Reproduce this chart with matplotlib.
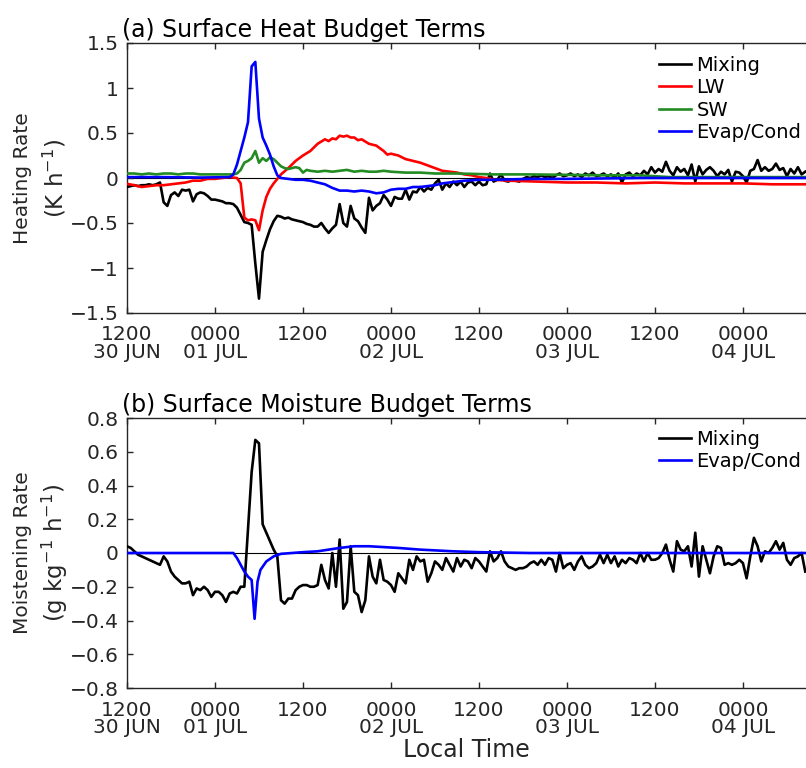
import numpy as np
import matplotlib
matplotlib.use("Agg")
import matplotlib.pyplot as plt
from matplotlib.ticker import FixedLocator, FuncFormatter

# ---------------- data ----------------
STEP_HOURS = 0.5  # sampling of the mixing series (hours since 1200 30 JUN)

MIX_A = [
    -0.10, -0.09, -0.08, -0.09, -0.08, -0.08, -0.07, -0.08, -0.07, -0.05, -0.27, -0.31,
    -0.19, -0.16, -0.20, -0.13, -0.14, -0.13, -0.26, -0.18, -0.16, -0.17, -0.20, -0.24,
    -0.24, -0.25, -0.26, -0.28, -0.28, -0.29, -0.33, -0.41, -0.49, -0.50, -0.52, -0.95,
    -1.34, -0.82, -0.69, -0.57, -0.48, -0.42, -0.43, -0.45, -0.44, -0.46, -0.47, -0.48,
    -0.49, -0.51, -0.52, -0.54, -0.54, -0.50, -0.56, -0.61, -0.56, -0.52, -0.29, -0.50,
    -0.54, -0.31, -0.45, -0.48, -0.55, -0.61, -0.22, -0.36, -0.31, -0.28, -0.19, -0.24,
    -0.31, -0.21, -0.23, -0.23, -0.13, -0.24, -0.15, -0.16, -0.10, -0.15, -0.11, -0.13,
    -0.06, -0.02, -0.13, -0.06, -0.10, -0.04, -0.08, -0.04, -0.10, -0.05, -0.04, -0.08,
    -0.04, -0.08, -0.07, 0.05, -0.04, -0.02, 0.04, -0.03, -0.04, -0.02, -0.03, -0.04,
    -0.01, 0.01, 0.00, 0.02, 0.01, 0.03, 0.01, 0.02, 0.00, 0.03, 0.05, 0.02,
    0.03, 0.05, 0.02, 0.04, 0.01, 0.05, 0.03, 0.06, 0.02, 0.03, 0.05, 0.02,
    0.04, 0.01, 0.05, -0.05, 0.04, 0.06, 0.02, 0.05, 0.03, 0.08, 0.04, 0.12,
    0.06, 0.10, 0.07, 0.18, 0.08, 0.03, 0.12, 0.07, 0.10, 0.03, 0.15, -0.04,
    0.13, 0.04, 0.09, 0.12, 0.08, 0.02, 0.07, 0.04, 0.09, -0.04, 0.07, 0.06,
    0.02, -0.05, 0.08, 0.10, 0.20, 0.08, 0.12, 0.08, 0.10, 0.16, 0.09, 0.11,
    0.02, 0.10, 0.05, 0.12, 0.04, 0.07,
]

LW_HOURS = [0, 1, 2, 3, 4, 5, 6, 7, 8, 9, 10, 11, 12, 13, 14, 15, 15.5, 16, 16.5, 17,
            17.5, 18, 18.5, 19, 19.5, 20, 20.5, 21, 22, 23, 24, 25, 26, 27, 27.5, 28,
            28.5, 29, 29.5, 30, 30.5, 31, 31.5, 32, 33, 34, 34.5, 35, 35.5, 36, 37, 38,
            39, 40, 41, 42, 43, 44, 45, 46, 47, 48, 49, 50, 52, 54, 56, 58, 60, 64, 68,
            72, 76, 80, 84, 88, 92.6]
LW_VALUES = [-0.065, -0.08, -0.10, -0.09, -0.08, -0.08, -0.07, -0.06, -0.05, -0.03, -0.03,
             -0.01, -0.01, 0.00, 0.01, 0.00, -0.06, -0.44, -0.47, -0.46, -0.47, -0.58,
             -0.36, -0.21, -0.12, -0.06, -0.01, 0.04, 0.11, 0.19, 0.25, 0.30, 0.38, 0.43,
             0.41, 0.44, 0.43, 0.47, 0.46, 0.47, 0.45, 0.45, 0.42, 0.43, 0.38, 0.36, 0.33,
             0.30, 0.26, 0.27, 0.25, 0.21, 0.19, 0.17, 0.14, 0.11, 0.08, 0.07, 0.06, 0.04,
             0.03, 0.01, 0.00, -0.02, -0.03, -0.035, -0.04, -0.045, -0.05, -0.05, -0.06,
             -0.05, -0.06, -0.06, -0.06, -0.07, -0.07]

SW_HOURS = [0, 1, 2, 3, 4, 5, 6, 7, 8, 9, 10, 11, 12, 13, 14, 14.5, 15, 15.5, 16, 16.5,
            17, 17.5, 18, 18.5, 19, 19.5, 20, 20.5, 21, 21.5, 22, 22.5, 23, 23.5, 24,
            24.5, 25, 26, 27, 28, 29, 30, 31, 32, 33, 34, 35, 36, 38, 40, 42, 45, 50,
            55, 60, 65, 70, 72, 74, 92.6]
SW_VALUES = [0.05, 0.05, 0.04, 0.05, 0.04, 0.05, 0.05, 0.04, 0.05, 0.05, 0.04, 0.04,
             0.04, 0.04, 0.04, 0.04, 0.05, 0.09, 0.17, 0.19, 0.22, 0.30, 0.17, 0.22,
             0.19, 0.23, 0.21, 0.17, 0.13, 0.11, 0.10, 0.11, 0.12, 0.11, 0.06, 0.09,
             0.08, 0.07, 0.08, 0.07, 0.08, 0.09, 0.07, 0.08, 0.07, 0.07, 0.08, 0.07,
             0.06, 0.06, 0.05, 0.05, 0.04, 0.04, 0.035, 0.03, 0.03, 0.02, 0.01, 0.01]

EVAP_A_HOURS = [0, 5, 10, 14, 14.5, 15, 15.5, 16, 16.5, 17, 17.5, 18, 18.5, 19, 19.5, 20,
                20.5, 21, 22, 23, 24, 25, 26, 27, 28, 29, 30, 31, 32, 33, 34, 35, 36, 37,
                38, 39, 40, 41, 42, 43, 44, 45, 46, 48, 50, 55, 60, 70, 92.6]
EVAP_A_VALUES = [0.01, 0.01, 0.005, 0.01, 0.04, 0.15, 0.30, 0.45, 0.62, 1.24, 1.29, 0.66,
                 0.45, 0.36, 0.26, 0.13, 0.03, 0.00, -0.01, -0.02, -0.02, -0.03, -0.05,
                 -0.07, -0.11, -0.14, -0.14, -0.15, -0.14, -0.15, -0.17, -0.16, -0.13,
                 -0.12, -0.12, -0.10, -0.10, -0.09, -0.08, -0.06, -0.05, -0.04, -0.03,
                 -0.02, -0.02, -0.01, -0.01, 0.00, 0.00]

MIX_B = [
    0.04, 0.03, 0.01, -0.01, -0.02, -0.03, -0.04, -0.05, -0.06, -0.07, -0.02, -0.05,
    -0.11, -0.14, -0.16, -0.18, -0.18, -0.17, -0.25, -0.21, -0.22, -0.20, -0.22, -0.26,
    -0.23, -0.23, -0.25, -0.29, -0.24, -0.23, -0.24, -0.20, -0.20, 0.14, 0.48, 0.67,
    0.65, 0.17, 0.12, 0.07, 0.02, -0.02, -0.28, -0.30, -0.27, -0.27, -0.22, -0.20,
    -0.19, -0.19, -0.20, -0.20, -0.19, -0.07, -0.16, -0.21, 0.00, -0.20, 0.08, -0.33,
    -0.29, 0.04, -0.23, -0.25, -0.35, -0.28, -0.02, -0.14, -0.18, -0.04, -0.16, -0.17,
    -0.19, -0.23, -0.12, -0.15, -0.18, -0.04, -0.10, -0.02, -0.05, -0.04, -0.17, -0.12,
    -0.05, -0.07, -0.10, -0.03, -0.07, -0.11, -0.03, -0.08, -0.04, -0.05, -0.09, -0.03,
    -0.05, -0.08, -0.11, 0.01, -0.05, -0.03, 0.01, -0.05, -0.08, -0.09, -0.10, -0.09,
    -0.09, -0.08, -0.06, -0.05, -0.07, -0.04, -0.07, -0.03, -0.04, -0.11, 0.00, -0.09,
    -0.07, -0.06, -0.10, -0.05, -0.02, -0.07, -0.09, -0.08, -0.06, -0.01, -0.06, -0.01,
    -0.06, -0.02, -0.08, -0.04, -0.06, -0.03, -0.04, -0.06, 0.00, -0.05, 0.00, -0.04,
    -0.04, -0.03, 0.00, 0.05, -0.04, -0.11, 0.07, 0.02, 0.01, 0.04, -0.08, 0.12,
    -0.14, 0.04, -0.04, -0.12, -0.02, 0.04, 0.03, -0.07, -0.06, -0.07, -0.06, -0.04,
    -0.06, -0.15, -0.02, 0.09, 0.04, -0.05, 0.01, 0.00, 0.03, 0.07, 0.02, 0.06,
    -0.04, -0.07, -0.03, -0.02, 0.00, -0.11,
]

EVAP_B_HOURS = [0, 5, 10, 14.5, 15, 15.5, 16, 16.5, 17, 17.4, 17.8, 18.2, 19, 20, 21, 24,
                26, 27.5, 29, 31, 33, 35, 37, 40, 44.5, 48, 55, 92.6]
EVAP_B_VALUES = [0.0, 0.0, 0.0, 0.0, -0.03, -0.07, -0.11, -0.14, -0.16, -0.39, -0.17,
                 -0.10, -0.05, -0.02, -0.005, 0.005, 0.01, 0.02, 0.03, 0.04, 0.04, 0.035,
                 0.03, 0.02, 0.01, 0.005, 0.0, 0.0]

XTICK_HOURS = [0, 12, 24, 36, 48, 60, 72, 84]
XTICK_LABELS = ["1200\n30 JUN", "0000\n01 JUL", "1200", "0000\n02 JUL", "1200",
                "0000\n03 JUL", "1200", "0000\n04 JUL"]
YTICKS_A = [-1.5, -1.0, -0.5, 0.0, 0.5, 1.0, 1.5]
YTICKS_B = [-0.8, -0.6, -0.4, -0.2, 0.0, 0.2, 0.4, 0.6, 0.8]

# ---------------- style ----------------
plt.rcParams["font.family"] = ["DejaVu Sans"]
plt.rcParams["font.size"] = 14.5
plt.rcParams["mathtext.default"] = "regular"
DARK = "#262626"
C_MIX, C_LW, C_SW, C_EVAP = "black", "#ff0000", "#228b22", "#0000ff"
LW = 1.9

W, H = 806, 768
fig = plt.figure(figsize=(W / 100, H / 100), dpi=100)
XMAX = 92.6


def fmt(v, _pos):
    s = "%g" % round(v, 3)
    if s == "-0":
        s = "0"
    return s.replace("-", "\u2212")


def make_axes(top_px, bottom_px):
    return fig.add_axes([127 / W, (H - bottom_px) / H, (W - 127) / W, (bottom_px - top_px) / H])


def style(ax, yticks, title, ylabel1, ylabel2):
    ax.set_xlim(0, XMAX)
    ax.set_ylim(yticks[0], yticks[-1])
    ax.axhline(0, color="black", lw=0.8, zorder=1.5)
    ax.xaxis.set_major_locator(FixedLocator(XTICK_HOURS))
    ax.set_xticklabels(XTICK_LABELS)
    ax.yaxis.set_major_locator(FixedLocator(yticks))
    ax.yaxis.set_major_formatter(FuncFormatter(fmt))
    ax.tick_params(axis="both", direction="in", length=4, width=1, colors=DARK,
                   top=True, right=False, labelsize=14.5)
    ax.tick_params(axis="x", pad=9)
    ax.tick_params(axis="y", pad=6)
    for lab in ax.get_xticklabels():
        lab.set_linespacing(0.88)
    for side in ("left", "bottom", "top"):
        ax.spines[side].set_color(DARK)
        ax.spines[side].set_linewidth(1.0)
    ax.spines["right"].set_visible(False)
    ax.text(-0.008, 1.004, title, transform=ax.transAxes, ha="left", va="bottom",
            fontsize=17, color="black")
    ax.text(-0.1546, 0.5, ylabel1, transform=ax.transAxes, rotation=90, ha="center",
            va="center", color=DARK, fontsize=14.5)
    ax.text(-0.106, 0.5, ylabel2, transform=ax.transAxes, rotation=90, ha="center",
            va="center", color=DARK, fontsize=16.5)


LEG_KW = dict(loc="upper right", frameon=False, borderaxespad=0, borderpad=0,
              labelspacing=0.17, handlelength=1.65, handletextpad=0.28, fontsize=14)

# ---------------- panel (a) ----------------
ax_a = make_axes(43, 313)
t_mix_a = np.arange(len(MIX_A)) * STEP_HOURS
ax_a.plot(t_mix_a, MIX_A, color=C_MIX, lw=LW, label="Mixing", zorder=3)
ax_a.plot(LW_HOURS, LW_VALUES, color=C_LW, lw=LW, label="LW", zorder=3)
ax_a.plot(SW_HOURS, SW_VALUES, color=C_SW, lw=LW, label="SW", zorder=3)
ax_a.plot(EVAP_A_HOURS, EVAP_A_VALUES, color=C_EVAP, lw=LW, label="Evap/Cond", zorder=3)
style(ax_a, YTICKS_A, "(a) Surface Heat Budget Terms", "Heating Rate", "(K h$^{-1}$)")
ax_a.legend(bbox_to_anchor=(0.993, 0.952), **LEG_KW)

# ---------------- panel (b) ----------------
ax_b = make_axes(418, 688)
t_mix_b = np.arange(len(MIX_B)) * STEP_HOURS
ax_b.plot(t_mix_b, MIX_B, color=C_MIX, lw=LW, label="Mixing", zorder=3)
ax_b.plot(EVAP_B_HOURS, EVAP_B_VALUES, color=C_EVAP, lw=LW, label="Evap/Cond", zorder=3)
style(ax_b, YTICKS_B, "(b) Surface Moisture Budget Terms", "Moistening Rate",
      "(g kg$^{-1}$ h$^{-1}$)")
ax_b.legend(bbox_to_anchor=(0.993, 0.957), **LEG_KW)
ax_b.set_xlabel("Local Time", fontsize=17, color=DARK, labelpad=1)

fig.savefig("out.png", dpi=100)
